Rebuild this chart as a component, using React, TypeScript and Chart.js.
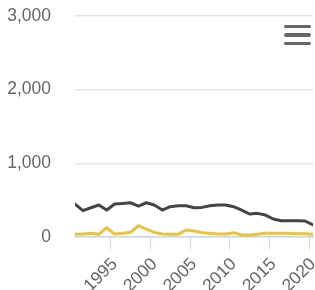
import React, { useEffect, useRef } from "react";
import { Chart, registerables } from "chart.js";

Chart.register(...registerables);

const years = [
  1990, 1991, 1992, 1993, 1994, 1995, 1996, 1997, 1998, 1999, 2000, 2001, 2002, 2003, 2004, 2005,
  2006, 2007, 2008, 2009, 2010, 2011, 2012, 2013, 2014, 2015, 2016, 2017, 2018, 2019, 2020,
];

const darkSeries = [
  447, 357, 397, 434, 366, 447, 456, 465, 420, 465, 434, 366, 411, 425, 425, 397,
  402, 425, 434, 434, 411, 366, 312, 321, 298, 244, 221, 221, 221, 217, 163,
];

const yellowSeries = [
  36, 40, 50, 36, 126, 40, 50, 63, 153, 108, 63, 40, 36, 36, 95, 81,
  59, 50, 40, 40, 59, 27, 27, 36, 50, 50, 50, 50, 45, 45, 36,
];

const tickLabels = ["1995", "2000", "2005", "2010", "2015", "2020"];
const yTicks = [0, 1000, 2000, 3000];

const FONT = "'Liberation Sans', Arial, Helvetica, sans-serif";

export default function App() {
  const ref = useRef<HTMLCanvasElement | null>(null);

  useEffect(() => {
    if (!ref.current) return;
    const chart = new Chart(ref.current, {
      type: "line",
      data: {
        datasets: [
          {
            data: years.map((x, i) => ({ x, y: darkSeries[i] })),
            borderColor: "#434348",
            borderWidth: 3,
            pointRadius: 0,
            tension: 0,
            borderJoinStyle: "round",
            borderCapStyle: "round",
          },
          {
            data: years.map((x, i) => ({ x, y: yellowSeries[i] })),
            borderColor: "#e6c43f",
            borderWidth: 3,
            pointRadius: 0,
            tension: 0,
            borderJoinStyle: "round",
            borderCapStyle: "round",
          },
        ],
      },
      options: {
        animation: false,
        responsive: true,
        maintainAspectRatio: false,
        devicePixelRatio: 1,
        layout: { padding: { top: 16, right: 2, left: 0, bottom: 0 } },
        plugins: { legend: { display: false }, tooltip: { enabled: false } },
        scales: {
          x: {
            type: "linear",
            min: years[0],
            max: years[years.length - 1],
            afterBuildTicks: (scale: any) => {
              scale.ticks = tickLabels.map((t) => ({ value: Number(t) - 0.5 }));
            },
            afterFit: (scale: any) => {
              scale.height = 53;
              scale.paddingLeft = 0;
              scale.paddingRight = 0;
            },
            grid: {
              drawOnChartArea: false,
              drawTicks: true,
              tickLength: 12,
              color: "#ccd6eb",
              lineWidth: 1,
            },
            border: { display: true, color: "#ccd6eb", width: 1.5 },
            ticks: {
              autoSkip: false,
              minRotation: 45,
              maxRotation: 45,
              padding: 5,
              labelOffset: 4,
              color: "#666666",
              font: { family: FONT, size: 17.5 },
              callback: (v: any) => String(Math.round(Number(v) + 0.5)),
            },
          },
          y: {
            min: yTicks[0],
            max: yTicks[yTicks.length - 1],
            afterBuildTicks: (scale: any) => {
              scale.ticks = yTicks.map((v) => ({ value: v }));
            },
            afterFit: (scale: any) => {
              scale.width = 75;
              scale.paddingTop = 0;
              scale.paddingBottom = 0;
            },
            grid: { color: "#e6e6e6", lineWidth: 1.5, drawTicks: false },
            border: { display: false },
            ticks: {
              padding: 24,
              color: "#666666",
              font: { family: FONT, size: 17.5 },
              callback: (v: any) => Number(v).toLocaleString("en-US"),
            },
          },
        },
      },
    });
    return () => chart.destroy();
  }, []);

  const bar: React.CSSProperties = {
    position: "absolute",
    left: 284,
    width: 27,
    height: 3.5,
    borderRadius: 2,
    background: "#666666",
  };

  return (
    <div style={{ position: "fixed", left: 0, top: 0, width: 315, height: 290, background: "#fff" }}>
      <canvas ref={ref} />
      <div style={{ ...bar, top: 24.5 }} />
      <div style={{ ...bar, top: 33.2 }} />
      <div style={{ ...bar, top: 41.8 }} />
    </div>
  );
}
